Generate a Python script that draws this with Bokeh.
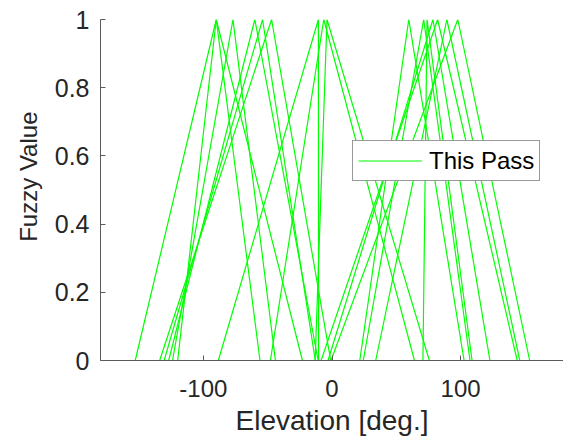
from bokeh.plotting import figure
from bokeh.models import Range1d, Legend, LegendItem, FixedTicker
from bokeh.embed import file_html
from bokeh.resources import INLINE

# Triangular fuzzy membership functions for elevation: (left foot, peak, right foot) in degrees
left_feet = [-153, -120, -124, -127, -130.5, -134, -88.4, -47.9, -13.1,
             21.6, 24.3, 70.7, -3.1, -8.5, 34, -0.8]
peaks = [-90, -90, -77, -60, -54, -47, -10.6, -6.4, -3.9,
         59.7, 71.3, 73.9, 78.5, 82.1, 89.3, 97.8]
right_feet = [-56, -23, -44, -10.8, -13, -1, -10.4, 64.1, 75.7,
              102.7, 107.3, 108.9, 122.8, 144, 146, 153.7]
membership = [0, 1, 0]

x_ticks = [-100, 0, 100]
x_tick_labels = ["-100", "0", "100"]
y_ticks = [0, 0.2, 0.4, 0.6, 0.8, 1]
y_tick_labels = ["0", "0.2", "0.4", "0.6", "0.8", "1"]

FONT = "Liberation Sans"
TEXT = "#262626"
AXIS = "#5a5a5a"
GREEN = "#00ff00"

p = figure(width=563, height=447, output_backend="svg", toolbar_location=None,
           x_range=Range1d(-180, 180), y_range=Range1d(0, 1),
           min_border_left=100, min_border_right=0, min_border_top=19,
           min_border_bottom=87)
p.outline_line_color = None
p.background_fill_color = "white"
p.border_fill_color = "white"
p.grid.visible = False

renderers = []
for l, pk, r in zip(left_feet, peaks, right_feet):
    renderers.append(p.line([l, pk, r], membership, line_color=GREEN, line_width=1.2))

for ax in (p.xaxis[0], p.yaxis[0]):
    ax.axis_line_color = AXIS
    ax.axis_line_width = 1
    ax.major_tick_line_color = AXIS
    ax.major_tick_in = 5
    ax.major_tick_out = 0
    ax.minor_tick_line_color = None
    ax.major_label_text_font = FONT
    ax.major_label_text_color = TEXT
    ax.axis_label_text_font = FONT
    ax.axis_label_text_color = TEXT
    ax.axis_label_text_font_style = "normal"

p.xaxis.ticker = FixedTicker(ticks=x_ticks)
p.xaxis.major_label_overrides = {t: s for t, s in zip(x_ticks, x_tick_labels)}
p.xaxis.major_label_text_font_size = "24px"
p.xaxis.major_label_standoff = 19
p.xaxis.axis_label = "Elevation [deg.]"
p.xaxis.axis_label_text_font_size = "28px"
p.xaxis.axis_label_standoff = 5

p.yaxis.ticker = FixedTicker(ticks=y_ticks)
p.yaxis.major_label_overrides = {t: s for t, s in zip(y_ticks, y_tick_labels)}
p.yaxis.major_label_text_font_size = "25px"
p.yaxis.major_label_standoff = 11
# leading no-break spaces lift the rotated title a little above the frame centre
p.yaxis.axis_label = "\u00a0\u00a0\u00a0\u00a0Fuzzy Value"
p.yaxis.axis_label_text_font_size = "24px"
p.yaxis.axis_label_standoff = 10

legend = Legend(items=[LegendItem(label="This Pass", renderers=[renderers[0]])],
                location=(252, 179))
legend.label_text_font = FONT
legend.label_text_font_size = "24px"
legend.label_text_color = "#000000"
legend.glyph_width = 64
legend.glyph_height = 29
legend.label_height = 29
legend.label_standoff = 7
legend.padding = 5
legend.margin = 0
legend.border_line_color = "#333333"
legend.border_line_width = 1
legend.background_fill_color = "white"
legend.background_fill_alpha = 1
p.add_layout(legend, "center")

open("out.html", "w").write(file_html(p, INLINE))
